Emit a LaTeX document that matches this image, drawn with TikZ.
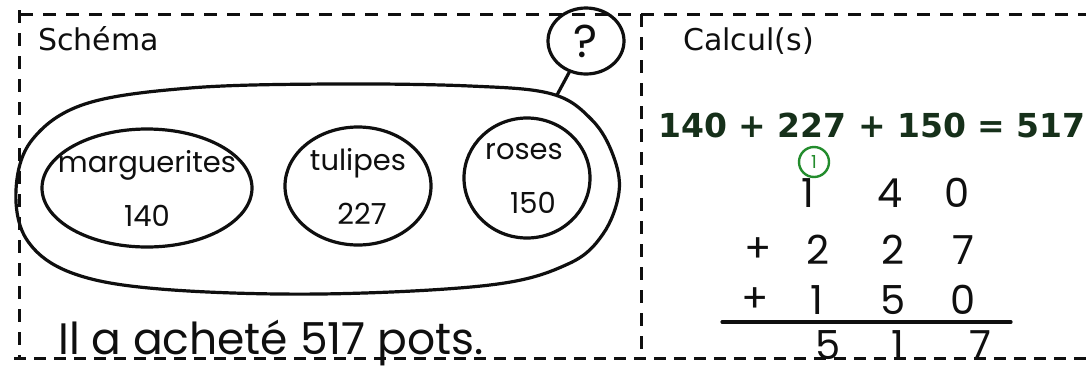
\documentclass[tikz,border=0pt]{standalone}
\usepackage{fontspec}
\setsansfont{DejaVu Sans}
\newfontfamily\handfont{Poppins}
\usepackage{xcolor}
\usepackage{tikz}
\usetikzlibrary{shapes,arrows,positioning,calc}
\definecolor{sumGreen}{RGB}{22,48,26}
\definecolor{carryGreen}{RGB}{35,140,45}
\definecolor{inkBlack}{RGB}{15,15,15}

\begin{document}
\begin{tikzpicture}[x=1pt, y=-1pt, line join=round, line cap=round,
    frame/.style={draw=inkBlack, line width=3pt, line cap=butt, dash pattern=on 13pt off 10pt},
    hand/.style={draw=inkBlack, line width=3.2pt},
    group/.style={ellipse, hand, inner sep=0pt, align=center, text=inkBlack, font=\handfont\fontsize{29}{54}\selectfont},
    digit/.style={inner sep=0pt, text=inkBlack, font=\handfont\fontsize{40}{40}\selectfont},
    title/.style={anchor=base west, inner sep=0pt, text=inkBlack, font=\sffamily\fontsize{30}{36}\selectfont}]
    \useasboundingbox[fill=white] (0,0) rectangle (1086,376);

    \draw [frame] (20,14) -- (1086,14);
    \draw [frame] (19,10) -- (19,358);
    \draw [frame, dash pattern=on 12pt off 8pt] (14,358) -- (1086,358);
    \draw [frame] (641,14) -- (641,356);

    \node [title] (schema) at (38,50) {Schéma};
    \node [title] (calc) at (683,50) {Calcul(s)};

    \draw [hand] plot [smooth cycle, tension=0.6] coordinates {(16,190) (32,140) (85,104) (190,88) (330,84) (470,86) (552,94) (592,120) (613,155) (619,192) (603,234) (568,264) (490,285) (320,294) (160,289) (72,273) (27,240)};
    \coordinate (hook) at (557,95);

    \node [group, minimum width=210, minimum height=118] (marg) at (147,188) {\makebox[0pt]{marguerites}\\\makebox[0pt]{140}};
    \node [group, minimum width=146, minimum height=118] (tul) at (358,186) {\makebox[0pt]{tulipes}\\\makebox[0pt]{\hspace{8pt}227}};
    \node [group, minimum width=126, minimum height=120] (ros) at (527,178) {\makebox[0pt]{\hspace{-6pt}roses}\\\makebox[0pt]{\hspace{12pt}150}};

    \node [ellipse, hand, minimum width=76, minimum height=66, inner sep=0pt, text=inkBlack, font=\handfont\fontsize{46}{46}\selectfont] (quest) at (586,41) {?};
    \draw [hand] (quest) -- (hook);

    \node [anchor=base west, inner sep=0pt, text=sumGreen, font=\sffamily\bfseries\fontsize{33}{40}\selectfont] (sum) at (658,137) {140 + 227 + 150 = 517};

    \node [circle, draw=carryGreen, line width=2.4pt, minimum size=30, inner sep=0pt, text=carryGreen, font=\handfont\fontsize{18}{18}\selectfont] (carry) at (814,162) {1};

    \node [digit] (a1) at (808,193) {1};
    \node [digit] (a2) at (890,193) {4};
    \node [digit] (a3) at (957,193) {0};
    \node [digit] (b0) at (758,250) {+};
    \node [digit] (b1) at (818,250) {2};
    \node [digit] (b2) at (893,250) {2};
    \node [digit] (b3) at (963,250) {7};
    \node [digit] (c0) at (755,300) {+};
    \node [digit] (c1) at (817,300) {1};
    \node [digit] (c2) at (893,300) {5};
    \node [digit] (c3) at (963,300) {0};
    \draw [hand] (722,322) -- (1011,322);
    \node [digit] (d1) at (828,345) {5};
    \node [digit] (d2) at (898,345) {1};
    \node [digit] (d3) at (980,345) {7};

    \node [anchor=base west, inner sep=0pt, text=inkBlack, font=\handfont\fontsize{44}{44}\selectfont] (answer) at (58,354) {Il a acheté 517 pots.};
\end{tikzpicture}
\end{document}
